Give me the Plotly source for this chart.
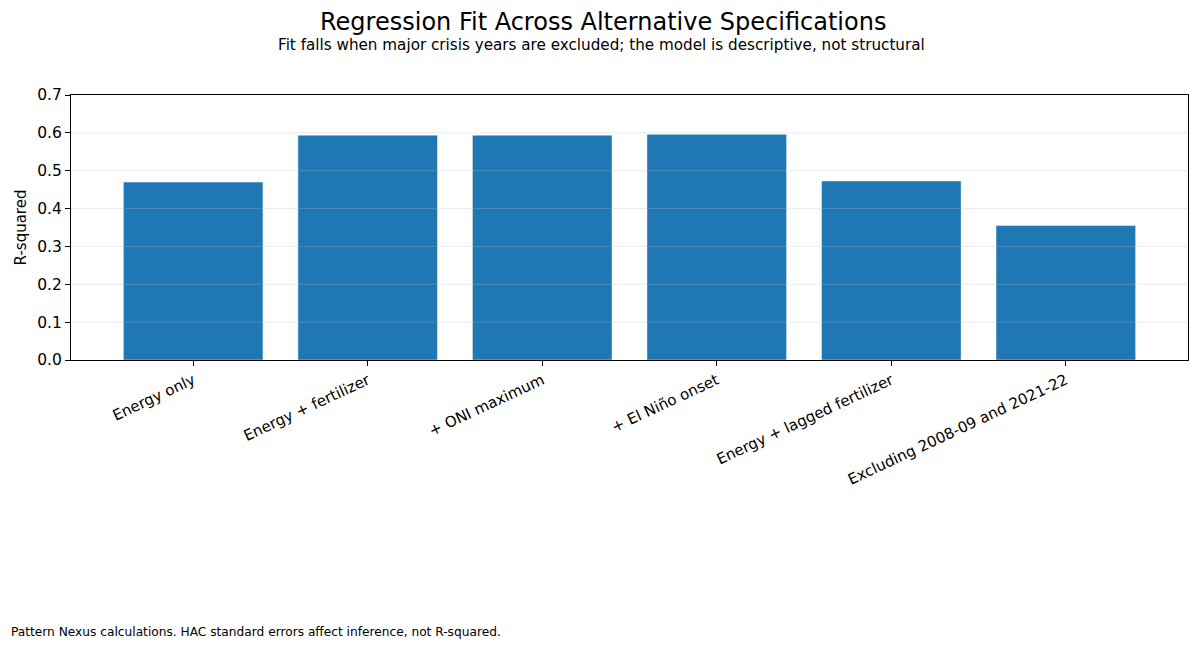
import plotly.graph_objects as go

# Specifications and their R-squared values
specs = ['Energy only', 'Energy + fertilizer', '+ ONI maximum', '+ El Niño onset',
         'Energy + lagged fertilizer', 'Excluding 2008-09 and 2021-22']
r_squared = [0.470, 0.594, 0.594, 0.596, 0.473, 0.355]
y_ticks = [0.0, 0.1, 0.2, 0.3, 0.4, 0.5, 0.6, 0.7]

font = 'DejaVu Sans'

fig = go.Figure(go.Bar(
    x=specs, y=r_squared, width=0.8,
    marker_color='#1f77b4',
    marker_line=dict(color='rgba(255,255,255,0.6)', width=0.8),
))

fig.update_layout(
    width=1200, height=650,
    margin=dict(l=71, r=12, t=95, b=290),
    plot_bgcolor='white', paper_bgcolor='white',
    font=dict(family=font, size=13, color='black'),
    showlegend=False,
    bargap=0.2,
)

fig.update_xaxes(
    range=[-0.7, 5.7], tickangle=-25, tickfont=dict(size=15),
    showline=True, linecolor='black', linewidth=1, mirror=True,
    ticks='outside', ticklen=5, tickcolor='black',
    showgrid=False,
)
fig.update_yaxes(
    range=[0, 0.7], tickvals=y_ticks, tickformat='.1f',
    tickfont=dict(size=15.5),
    title=dict(text='R-squared', font=dict(size=15), standoff=6),
    showline=True, linecolor='black', linewidth=1, mirror=True,
    ticks='outside', ticklen=5, tickcolor='black',
    showgrid=False, zeroline=False,
)

# light grid drawn over the bars, like the original
for t in y_ticks[1:-1]:
    fig.add_hline(y=t, line=dict(color='rgba(190,190,190,0.3)', width=1),
                  layer='above')

# titles are centred on the whole figure, not the plot area
fig.add_annotation(text='Regression Fit Across Alternative Specifications',
                   xref='paper', yref='paper', x=0.5, y=1, xshift=-27,
                   xanchor='center', yanchor='bottom', yshift=57,
                   showarrow=False, font=dict(size=24, family=font))
fig.add_annotation(text='Fit falls when major crisis years are excluded; '
                        'the model is descriptive, not structural',
                   xref='paper', yref='paper', x=0.5, y=1, xshift=-28,
                   xanchor='center', yanchor='bottom', yshift=39,
                   showarrow=False, font=dict(size=15.2, family=font))
fig.add_annotation(text='Pattern Nexus calculations. HAC standard errors '
                        'affect inference, not R-squared.',
                   xref='paper', yref='paper', x=0, y=0,
                   xanchor='left', yanchor='middle', xshift=-62, yshift=-272,
                   showarrow=False, font=dict(size=12.2, family=font))

fig.write_html('out.html', config={'displayModeBar': False},
               post_script="document.body.style.margin='0';")
